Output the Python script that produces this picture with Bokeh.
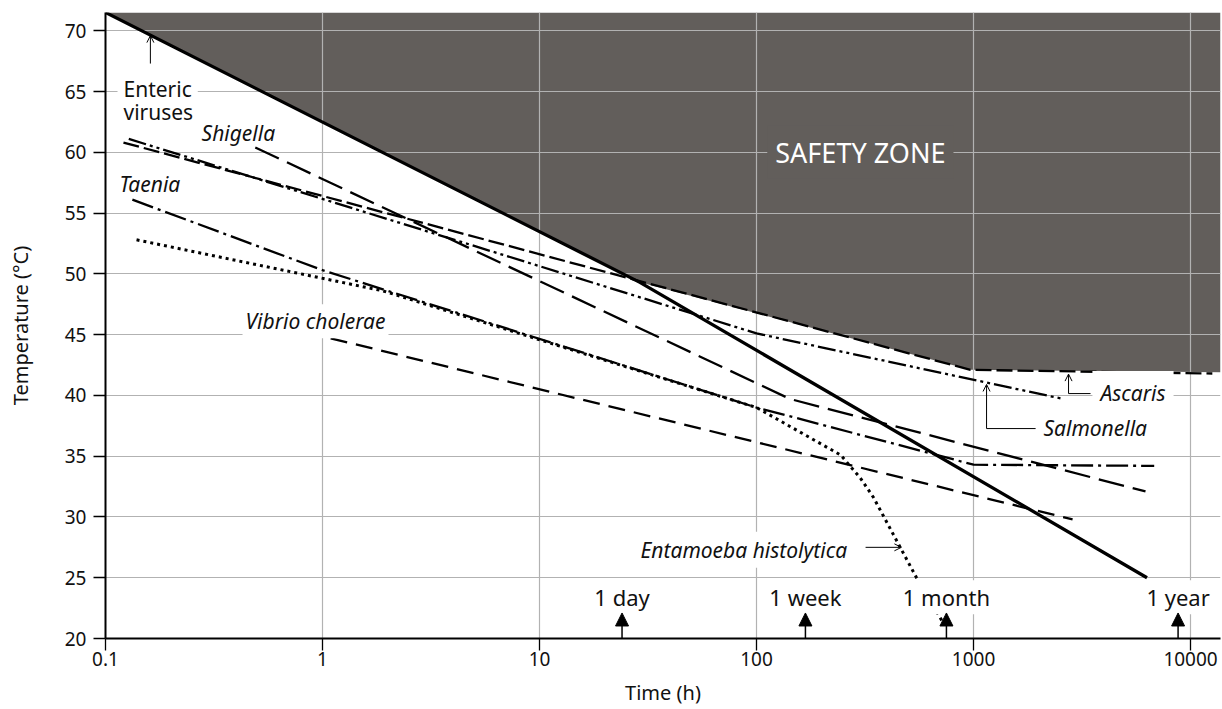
from bokeh.plotting import figure
from bokeh.models import Label, Arrow, OpenHead, NormalHead, FixedTicker, Range1d
from bokeh.embed import file_html
from bokeh.resources import INLINE

# ---------------- data ----------------
enteric_t = [0.1, 29.0, 6300]
enteric_temp = [71.5, 49.3, 25.0]

ascaris_t = [0.121, 968, 12600]
ascaris_temp = [60.8, 42.1, 41.8]

salmonella_t = [0.128, 100, 2600]
salmonella_temp = [61.1, 45.1, 39.7]

shigella_t = [0.49, 143, 6200]
shigella_temp = [60.4, 39.7, 32.1]

taenia_t = [0.133, 1.0, 100, 1000, 6800]
taenia_temp = [56.1, 50.3, 39.0, 34.3, 34.2]

vibrio_t = [1.09, 2860]
vibrio_temp = [44.7, 29.8]

entamoeba_t = [0.139, 1.9, 100, 244, 301, 346, 546, 735]
entamoeba_temp = [52.8, 48.6, 39.0, 35.1, 33.2, 31.6, 25.0, 21.1]

safety_t = [0.1, 29.0, 968, 13740, 13740]
safety_temp = [71.5, 49.3, 42.1, 41.9, 71.5]

x_ticks = [0.1, 1, 10, 100, 1000, 10000]
x_tick_labels = ["0.1", "1", "10", "100", "1000", "10000"]
y_ticks = [20, 25, 30, 35, 40, 45, 50, 55, 60, 65, 70]

milestone_names = ["1 day", "1 week", "1 month", "1 year"]
milestone_hours = [24, 168, 750, 8760]

# ---------------- figure ----------------
FONT = "Noto Sans"
ZONE = "#625e5b"
GRID = "#b2b2b2"
TXT = "#111111"

p = figure(width=1222, height=709, x_axis_type="log",
           x_range=Range1d(0.1, 13740), y_range=Range1d(20, 71.5),
           output_backend="svg", toolbar_location=None,
           min_border_left=105, min_border_right=2,
           min_border_top=12, min_border_bottom=71)
p.outline_line_color = None
p.background_fill_color = "white"
p.border_fill_color = "white"

zone = p.patch(safety_t, safety_temp, fill_color=ZONE, line_color=None)
zone.level = "image"

# grid
p.xgrid.ticker = FixedTicker(ticks=x_ticks[1:])
p.ygrid.ticker = FixedTicker(ticks=y_ticks[1:])
for g in (p.xgrid, p.ygrid):
    g.grid_line_color = GRID
    g.grid_line_width = 1.2

# axes
p.xaxis.ticker = FixedTicker(ticks=x_ticks)
p.xaxis.major_label_overrides = dict(zip(x_ticks, x_tick_labels))
p.yaxis.ticker = FixedTicker(ticks=y_ticks)
for ax in (p.xaxis, p.yaxis):
    ax.axis_line_width = 2
    ax.axis_line_color = "black"
    ax.major_tick_line_color = "black"
    ax.major_tick_line_width = 1.3
    ax.major_tick_out = 12
    ax.major_tick_in = 0
    ax.minor_tick_line_color = None
    ax.major_label_text_font = FONT
    ax.major_label_text_font_size = "19px"
    ax.major_label_text_color = TXT
    ax.axis_label_text_font = FONT
    ax.axis_label_text_font_size = "20px"
    ax.axis_label_text_font_style = "normal"
    ax.axis_label_text_color = TXT
p.xaxis.axis_label = "Time (h)"
p.yaxis.axis_label = "Temperature (°C)"
p.xaxis.major_label_standoff = 1
p.xaxis.axis_label_standoff = 10
p.yaxis.major_label_standoff = 7
p.yaxis.axis_label_standoff = 28

# lines
p.line(vibrio_t, vibrio_temp, line_color="black", line_width=2.3, line_dash="17 9")
p.line(entamoeba_t, entamoeba_temp, line_color="black", line_width=3, line_dash="3 4")
p.line(taenia_t, taenia_temp, line_color="black", line_width=2.3, line_dash="22 5 3 5")
p.line(shigella_t, shigella_temp, line_color="black", line_width=2.3, line_dash="26 9")
p.line(salmonella_t, salmonella_temp, line_color="black", line_width=2.3, line_dash="18 4 3 4 3 4")
p.line(ascaris_t, ascaris_temp, line_color="black", line_width=2.3, line_dash="16 5")
p.line(enteric_t, enteric_temp, line_color="black", line_width=3.3)

# labels
def lab(x, y, text, italic=True, align="left", bg=None, size="21px", pad=0):
    kw = dict(x=x, y=y, text=text, text_font=FONT, text_font_size=size,
              text_font_style="italic" if italic else "normal",
              text_align=align, text_baseline="middle", text_color=TXT)
    if bg is not None:
        kw.update(background_fill_color=bg, padding=pad)
    l = Label(**kw)
    p.add_layout(l)
    return l

lab(0.1136, 65.2, "Enteric", italic=False, bg="white", pad=6)
lab(0.121, 63.3, "viruses", italic=False)
lab(0.277, 61.6, "Shigella")
lab(0.116, 57.4, "Taenia")
lab(0.428, 46.1, "Vibrio cholerae", bg="white", pad=3)
lab(3530, 40.2, "Ascaris", bg="white", pad=8)
lab(2100, 37.35, "Salmonella")
lab(28.0, 27.3, "Entamoeba histolytica", bg="white", pad=4)

sz = Label(x=301, y=60.0, text="SAFETY ZONE", text_font=FONT, text_font_size="27px",
           text_align="center", text_baseline="middle", text_color="white",
           background_fill_color=ZONE, padding=8)
p.add_layout(sz)

# milestones
for name, h in zip(milestone_names, milestone_hours):
    lab(h, 23.4, name, italic=False, align="center", bg="white", size="22px", pad=2)
    p.add_layout(Arrow(end=NormalHead(size=13, fill_color="black", line_color="black", line_width=1),
                       x_start=h, y_start=19.2, x_end=h, y_end=22.1,
                       line_color="black", line_width=1.5))

# pointer arrows
def seg(x0, y0, x1, y1, head=True):
    p.add_layout(Arrow(end=OpenHead(size=7, line_width=1, line_color="black") if head else None,
                       x_start=x0, y_start=y0, x_end=x1, y_end=y1,
                       line_color="black", line_width=1))

seg(0.161, 67.3, 0.161, 69.6)           # enteric viruses
seg(3460, 40.15, 2740, 40.15, False)    # ascaris elbow
seg(2740, 40.15, 2740, 41.75)
seg(1932, 37.27, 1148, 37.27, False)    # salmonella elbow
seg(1148, 37.27, 1148, 40.9)
seg(318, 27.5, 465, 27.5)               # entamoeba

open("out.html", "w").write(file_html(p, INLINE))
